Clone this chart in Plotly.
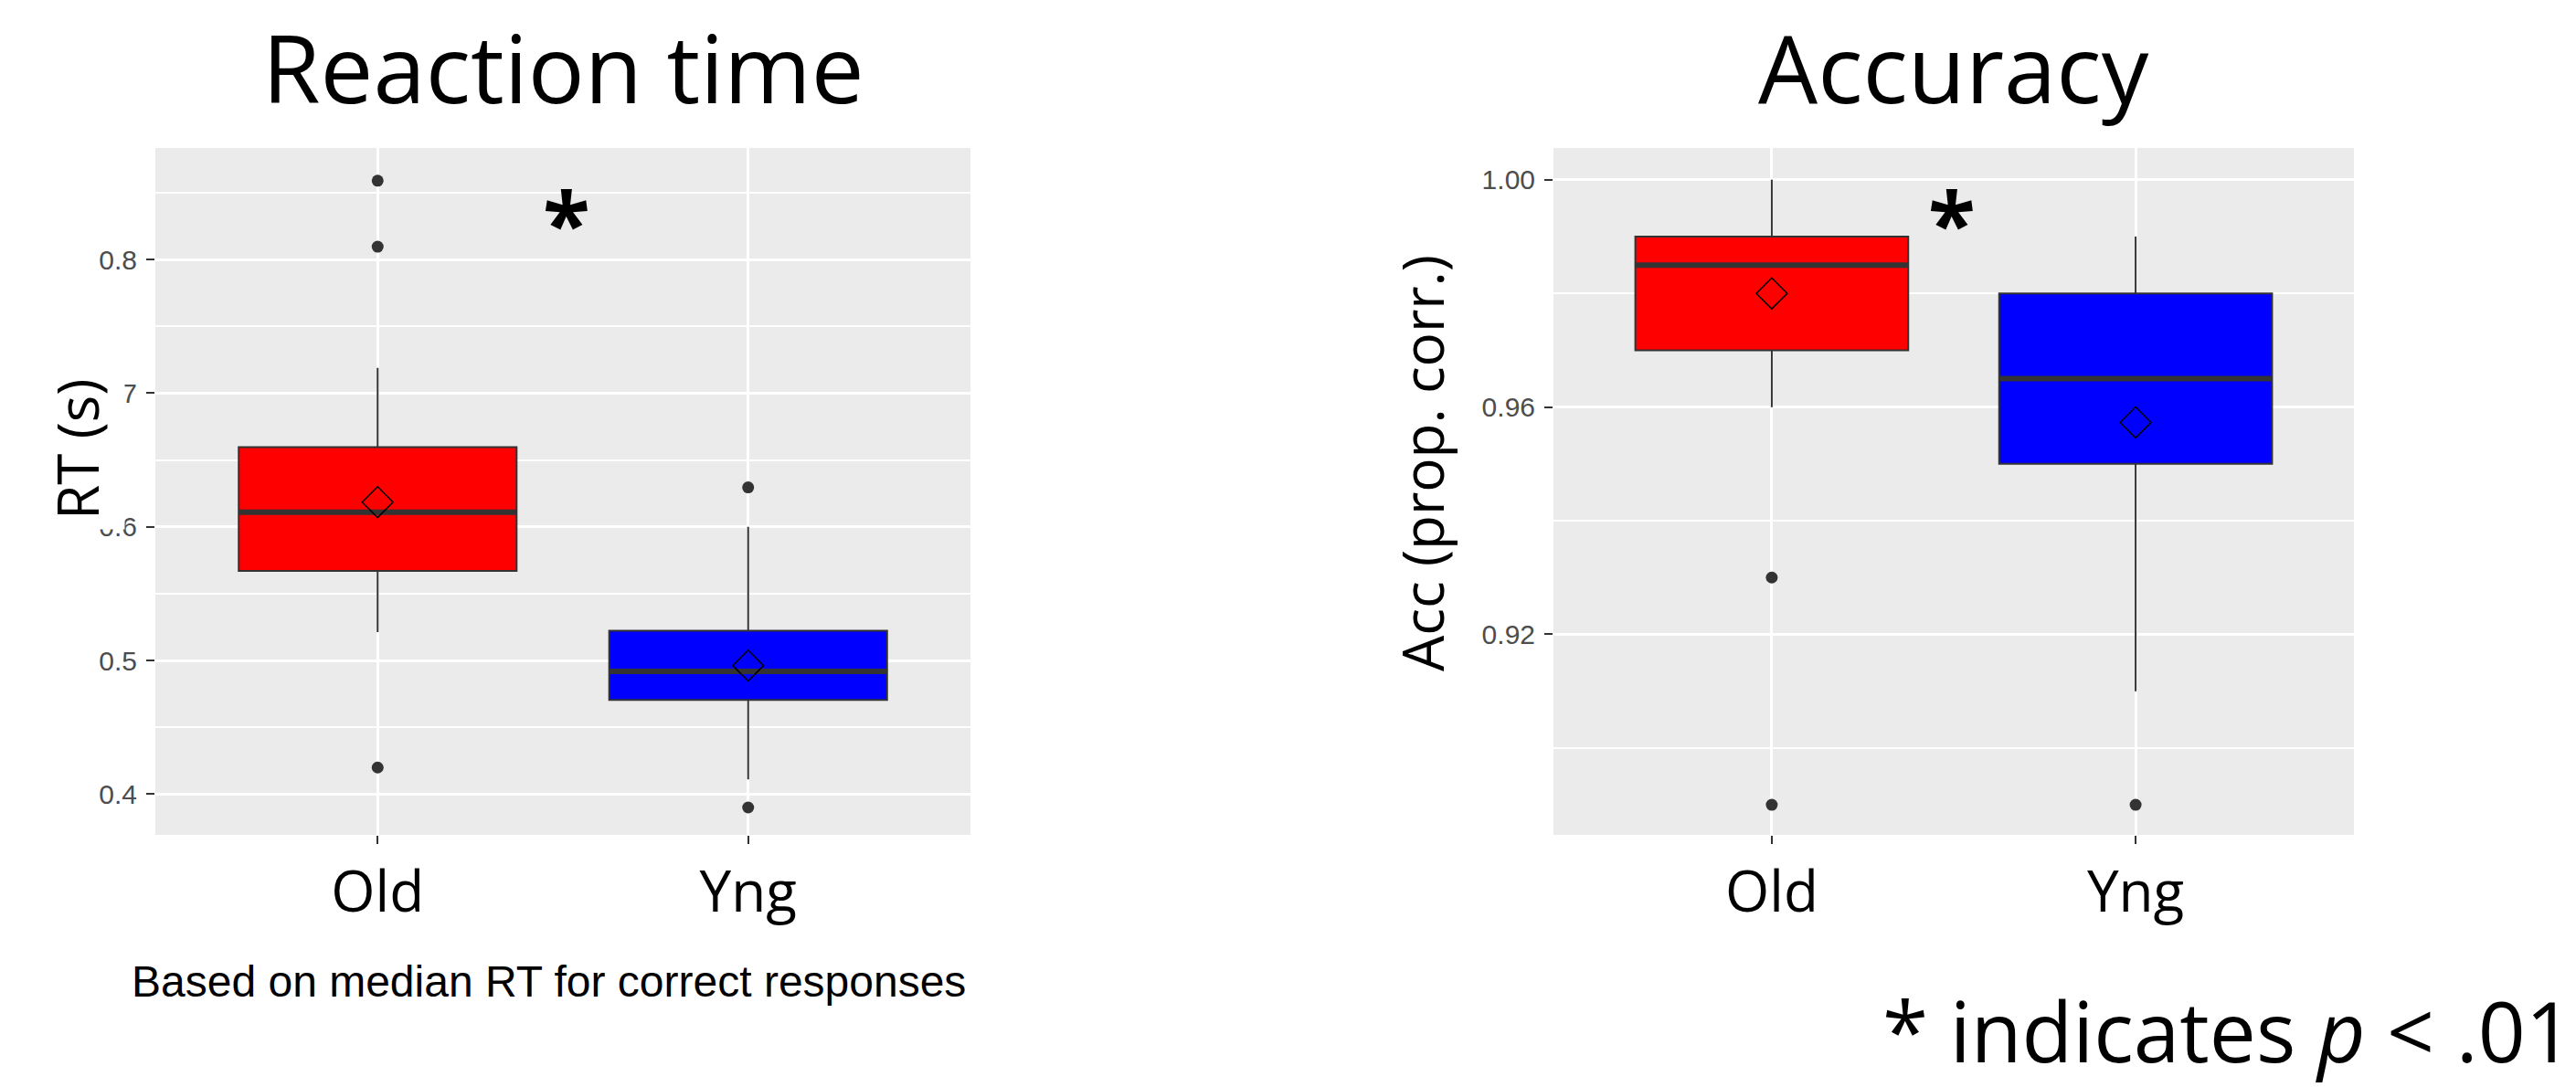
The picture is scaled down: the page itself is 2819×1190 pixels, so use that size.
import plotly.graph_objects as go

W, H = 2819, 1190

# ---------------- data ----------------
groups = ["Old", "Yng"]
group_pos = [0, 1]
box_colors = ["#FF0000", "#0000FF"]

rt_q1 = [0.567, 0.4705]
rt_median = [0.611, 0.4918]
rt_q3 = [0.6596, 0.5223]
rt_lower = [0.5212, 0.411]
rt_upper = [0.719, 0.600]
rt_mean = [0.6185, 0.4962]
rt_outliers = [[0.859, 0.8096, 0.4199], [0.6295, 0.390]]
rt_ticks = [0.4, 0.5, 0.6, 0.7, 0.8]
rt_ticklabels = ["0.4", "0.5", "0.6", "0.7", "0.8"]
rt_minor = [0.45, 0.55, 0.65, 0.75, 0.85]

acc_q1 = [0.970, 0.950]
acc_median = [0.985, 0.965]
acc_q3 = [0.990, 0.980]
acc_lower = [0.960, 0.910]
acc_upper = [1.000, 0.990]
acc_mean = [0.980, 0.9573]
acc_outliers = [[0.930, 0.890], [0.890]]
acc_ticks = [0.92, 0.96, 1.00]
acc_ticklabels = ["0.92", "0.96", "1.00"]
acc_minor = [0.90, 0.94, 0.98]

BOX_W = 0.75


def px_x(x):
    return x / W


def px_y(y):
    return 1 - y / H


fig = go.Figure()


def add_panel(xa, ya, q1, med, q3, lo, hi, mean, outs):
    for i, g in enumerate(groups):
        c = group_pos[i]
        fig.add_trace(go.Box(
            x=[c], q1=[q1[i]], median=[med[i]], q3=[q3[i]],
            lowerfence=[lo[i]], upperfence=[hi[i]],
            width=BOX_W, whiskerwidth=0, boxpoints=False,
            fillcolor=box_colors[i], line=dict(color="#333333", width=2),
            xaxis=xa, yaxis=ya, showlegend=False, hoverinfo="skip"))
        # thick median line
        fig.add_trace(go.Scatter(
            x=[c - BOX_W / 2, c + BOX_W / 2], y=[med[i], med[i]], mode="lines",
            line=dict(color="#333333", width=6), xaxis=xa, yaxis=ya,
            showlegend=False, hoverinfo="skip"))
        # outliers
        fig.add_trace(go.Scatter(
            x=[c] * len(outs[i]), y=outs[i], mode="markers",
            marker=dict(color="#333333", size=13), xaxis=xa, yaxis=ya,
            showlegend=False, hoverinfo="skip"))
    # means
    fig.add_trace(go.Scatter(
        x=group_pos, y=mean, mode="markers",
        marker=dict(symbol="diamond-open", size=26, color="black",
                    line=dict(color="black", width=1.5)),
        xaxis=xa, yaxis=ya, showlegend=False, hoverinfo="skip"))


add_panel("x", "y", rt_q1, rt_median, rt_q3, rt_lower, rt_upper, rt_mean, rt_outliers)
add_panel("x2", "y2", acc_q1, acc_median, acc_q3, acc_lower, acc_upper, acc_mean, acc_outliers)

ydom = [px_y(914), px_y(162)]

xcommon = dict(
    range=[-0.6, 1.6], tickvals=group_pos, ticktext=groups,
    showgrid=True, gridcolor="white", gridwidth=2.5, zeroline=False,
    ticks="outside", ticklen=9, tickwidth=2, tickcolor="#333333",
    tickfont=dict(family="Open Sans", size=62, color="black"),
    ticklabelstandoff=0, fixedrange=True)

ycommon = dict(
    showgrid=True, gridcolor="white", gridwidth=2.5, zeroline=False,
    ticks="outside", ticklen=9, tickwidth=2, tickcolor="#333333",
    tickfont=dict(family="Liberation Sans", size=30, color="#4D4D4D"),
    ticklabelstandoff=4, fixedrange=True)

fig.update_layout(
    width=W, height=H,
    margin=dict(l=0, r=0, t=0, b=0),
    paper_bgcolor="white", plot_bgcolor="#EBEBEB",
    showlegend=False,
    xaxis=dict(domain=[px_x(170), px_x(1062)], anchor="y", **xcommon),
    yaxis=dict(domain=ydom, anchor="x", range=[0.3695, 0.8835],
               tickvals=rt_ticks, ticktext=rt_ticklabels,
               minor=dict(tickvals=rt_minor, showgrid=True, gridcolor="white",
                          gridwidth=2, ticks=""),
               **ycommon),
    xaxis2=dict(domain=[px_x(1700), px_x(2576)], anchor="y2", **xcommon),
    yaxis2=dict(domain=ydom, anchor="x2", range=[0.8847, 1.0056],
                tickvals=acc_ticks, ticktext=acc_ticklabels,
                minor=dict(tickvals=acc_minor, showgrid=True, gridcolor="white",
                           gridwidth=2, ticks=""),
                **ycommon),
)

ann = []
ann.append(dict(text="Reaction time", x=px_x(616), y=px_y(73),
                font=dict(family="Open Sans", size=103, color="black")))
ann.append(dict(text="Accuracy", x=px_x(2138), y=px_y(73),
                font=dict(family="Open Sans", size=103, color="black")))
ann.append(dict(text="RT (s)", x=px_x(84), y=px_y(492), textangle=-90,
                bgcolor="white", borderpad=10,
                font=dict(family="Open Sans", size=62, color="black")))
ann.append(dict(text="Acc (prop. corr.)", x=px_x(1556), y=px_y(507), textangle=-90,
                font=dict(family="Open Sans", size=62, color="black")))
ann.append(dict(text="<b>*</b>", x=px_x(620), y=px_y(242),
                font=dict(family="Open Sans", size=95, color="black")))
ann.append(dict(text="<b>*</b>", x=px_x(2136), y=px_y(242),
                font=dict(family="Open Sans", size=95, color="black")))
ann.append(dict(text="Based on median RT for correct responses", x=px_x(600), y=px_y(1074),
                font=dict(family="Liberation Sans", size=48, color="black")))
ann.append(dict(text="* indicates <i>p</i> &lt; .01", x=px_x(2818), xanchor="right",
                y=px_y(1128),
                font=dict(family="Open Sans", size=91, color="black")))

for a in ann:
    a.setdefault("xref", "paper")
    a.setdefault("yref", "paper")
    a.setdefault("xanchor", "center")
    a.setdefault("yanchor", "middle")
    a["showarrow"] = False
fig.update_layout(annotations=ann)

fig.write_html("out.html", config={"displayModeBar": False},
               post_script="document.body.style.margin='0';document.body.style.overflow='hidden';")
